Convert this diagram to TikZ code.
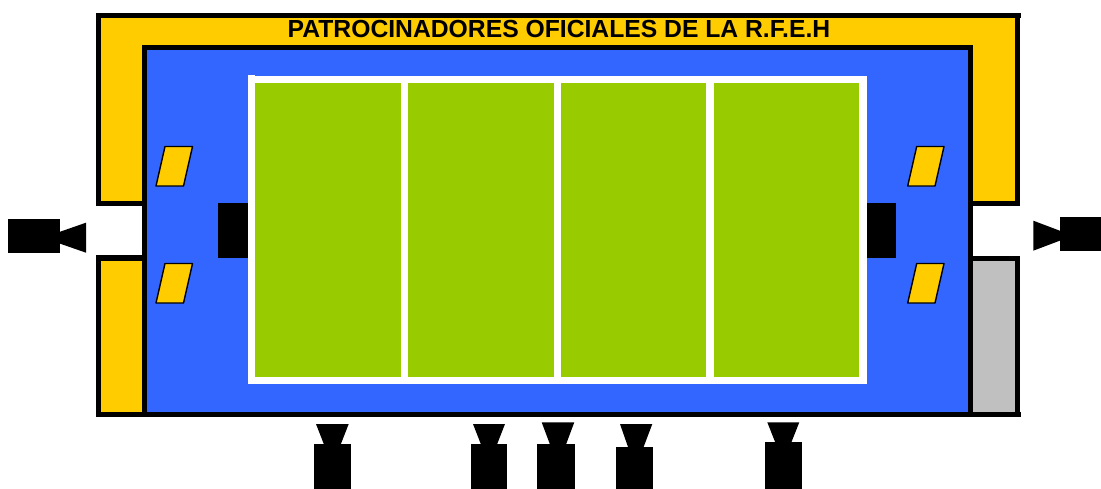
\documentclass[tikz,border=0pt]{standalone}
\usepackage{fontspec}
\setmainfont{Liberation Sans}
\definecolor{amber}{HTML}{FFCC00}
\definecolor{royal}{HTML}{3366FF}
\definecolor{turf}{HTML}{99CC00}
\definecolor{stand}{HTML}{C0C0C0}
\tikzset{
  ink/.style={fill=black,draw=none},
  amberfill/.style={fill=amber,draw=none},
  turfcell/.style={fill=turf,draw=none},
  board/.style={fill=amber,draw=black,line width=1.4pt,line join=round}
}
\begin{document}
\begin{tikzpicture}[x=1pt,y=-1pt]
\useasboundingbox (0,0) rectangle (1101,489);
% upper banner frame
\path[ink] (96,13) rectangle (1021,18);
\path[ink] (96,13) rectangle (1020,206);
\path[amberfill] (101,18) rectangle (1015,201);
% lower side frames
\path[ink] (96,255) rectangle (143,417);
\path[ink] (96,256) rectangle (1020,261);
\path[ink] (972,256) rectangle (1020,417);
\path[amberfill] (101,261) rectangle (143,412);
\path[fill=stand] (973,261) rectangle (1015,412);
% blue floor
\path[ink] (142,45) rectangle (973,417);
\path[ink] (96,412) rectangle (1021,417);
\path[fill=royal] (147,50) rectangle (968,412);
% court
\path[fill=white] (248,75) rectangle (255,384);
\path[fill=white] (248,76) rectangle (867,384);
\path[turfcell] (255,83) rectangle (401,377);
\path[turfcell] (408,83) rectangle (554,377);
\path[turfcell] (561,83) rectangle (706,377);
\path[turfcell] (714,83) rectangle (859,377);
% boards
\path[board] (165,146.5) -- (192.5,146.5) -- (183.5,186) -- (156,186) -- cycle;
\path[board] (165,263.5) -- (192.5,263.5) -- (183.5,303) -- (156,303) -- cycle;
\path[board] (916.7,146.5) -- (944,146.5) -- (935,186) -- (907.7,186) -- cycle;
\path[board] (916.7,263.5) -- (944,263.5) -- (935,303) -- (907.7,303) -- cycle;
% black blocks beside the court
\path[ink] (218,203) rectangle (248,258);
\path[ink] (867,203) rectangle (896,258);
% side cameras
\path[ink] (8,219) rectangle (60,252.7);
\path[ink] (86,222.7) -- (86,252.7) -- (43,237.7) -- cycle;
\path[ink] (1060,217.3) rectangle (1101,251.3);
\path[ink] (1033.3,220.7) -- (1033.3,250.7) -- (1073,235.7) -- cycle;
% bottom cameras
\path[ink] (314,444) rectangle (350.7,489);
\path[ink] (316,424) -- (348.7,424) -- (340.7,444.5) -- (324,444.5) -- cycle;
\path[ink] (470.7,444) rectangle (506.7,489);
\path[ink] (473,424) -- (505,424) -- (497,444.5) -- (481,444.5) -- cycle;
\path[ink] (537.3,444) rectangle (574.7,489);
\path[ink] (541.7,422.3) -- (574.3,422.3) -- (566,444.5) -- (550,444.5) -- cycle;
\path[ink] (616,447.3) rectangle (652.7,489);
\path[ink] (620,424) -- (652.3,424) -- (643.3,447.8) -- (628.3,447.8) -- cycle;
\path[ink] (765.3,442) rectangle (801.7,489);
\path[ink] (767.3,422.3) -- (799.3,422.3) -- (791.3,442.5) -- (775.3,442.5) -- cycle;
% title
\node[anchor=base,inner sep=0pt,font=\fontsize{24.7}{28}\selectfont\bfseries] (title) at (559,38) {PATROCINADORES OFICIALES DE LA R.F.E.H};
\end{tikzpicture}
\end{document}
